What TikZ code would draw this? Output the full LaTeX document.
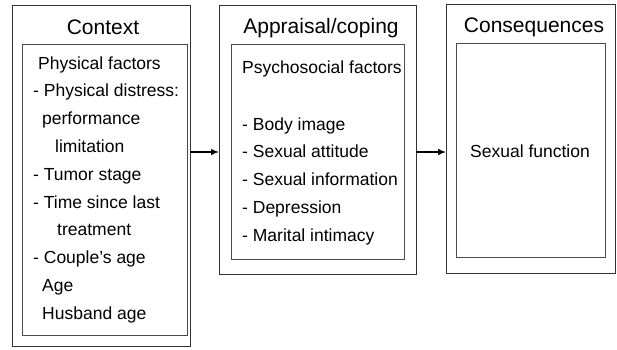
\documentclass[tikz,border=0pt]{standalone}
\usepackage{fontspec}
\setmainfont{Liberation Sans}
\usepackage{tikz}
\usetikzlibrary{arrows.meta}
\tikzset{
	outerbox/.style={draw=black!80,line width=0.8pt,anchor=north west,inner sep=0pt,outer sep=0pt}
}
\tikzset{
	innerbox/.style={draw=black!70,line width=0.6pt,anchor=north west,inner sep=0pt,outer sep=0pt}
}
\tikzset{
	body/.style={anchor=base west,inner sep=0pt,font=\fontsize{17.5}{20}\selectfont},
	title/.style={anchor=base,inner sep=0pt,font=\fontsize{21}{24}\selectfont},
	arr/.style={line width=1.2pt,-{Latex[length=8pt,width=6.5pt]}}
}

\begin{document}
\begin{tikzpicture}[x=1pt,y=-1pt]
	\useasboundingbox (0,0) rectangle (617,349);
	% boxes
	\node[outerbox,minimum width=178pt,minimum height=341pt] (ctx) at (12,5) {};
	\node[innerbox,minimum width=165pt,minimum height=291pt] (ctxin) at (22,44) {};
	\node[outerbox,minimum width=197pt,minimum height=269pt] (app) at (219,5) {};
	\node[innerbox,minimum width=173pt,minimum height=215pt] (appin) at (231,44) {};
	\node[outerbox,minimum width=169pt,minimum height=269pt] (cons) at (446,4) {};
	\node[innerbox,minimum width=149pt,minimum height=214pt] (consin) at (456,43) {};
	% titles
	\node[title] (ctxT) at (103,34) {Context};
	\node[title] (appT) at (321,33) {Appraisal/coping};
	\node[title] (consT) at (534,32) {Consequences};
	% context
	\node[body] (c1) at (38,69) {Physical factors};
	\node[body] (c2) at (33,96.8) {- Physical distress:};
	\node[body] (c3) at (42,124.6) {performance};
	\node[body] (c4) at (55,152.4) {limitation};
	\node[body] (c5) at (33,180.2) {- Tumor stage};
	\node[body] (c6) at (33,208) {- Time since last};
	\node[body] (c7) at (57,235.8) {treatment};
	\node[body] (c8) at (33,263.6) {- Couple's age};
	\node[body] (c9) at (42,291.4) {Age};
	\node[body] (c10) at (42,319.2) {Husband age};
	% appraisal
	\node[body] (p1) at (242,73) {Psychosocial factors};
	\node[body] (p2) at (242,130) {- Body image};
	\node[body] (p3) at (242,157.8) {- Sexual attitude};
	\node[body] (p4) at (242,185.6) {- Sexual information};
	\node[body] (p5) at (242,213.4) {- Depression};
	\node[body] (p6) at (242,241.2) {- Marital intimacy};
	% consequences
	\node[body,anchor=base] (s1) at (530,157) {Sexual function};
	% arrows
	\coordinate (lvl) at (0,152);
	\draw[arr] (ctx.east |- lvl) -- (app.west |- lvl);
	\draw[arr] (app.east |- lvl) -- (cons.west |- lvl);
\end{tikzpicture}
\end{document}
